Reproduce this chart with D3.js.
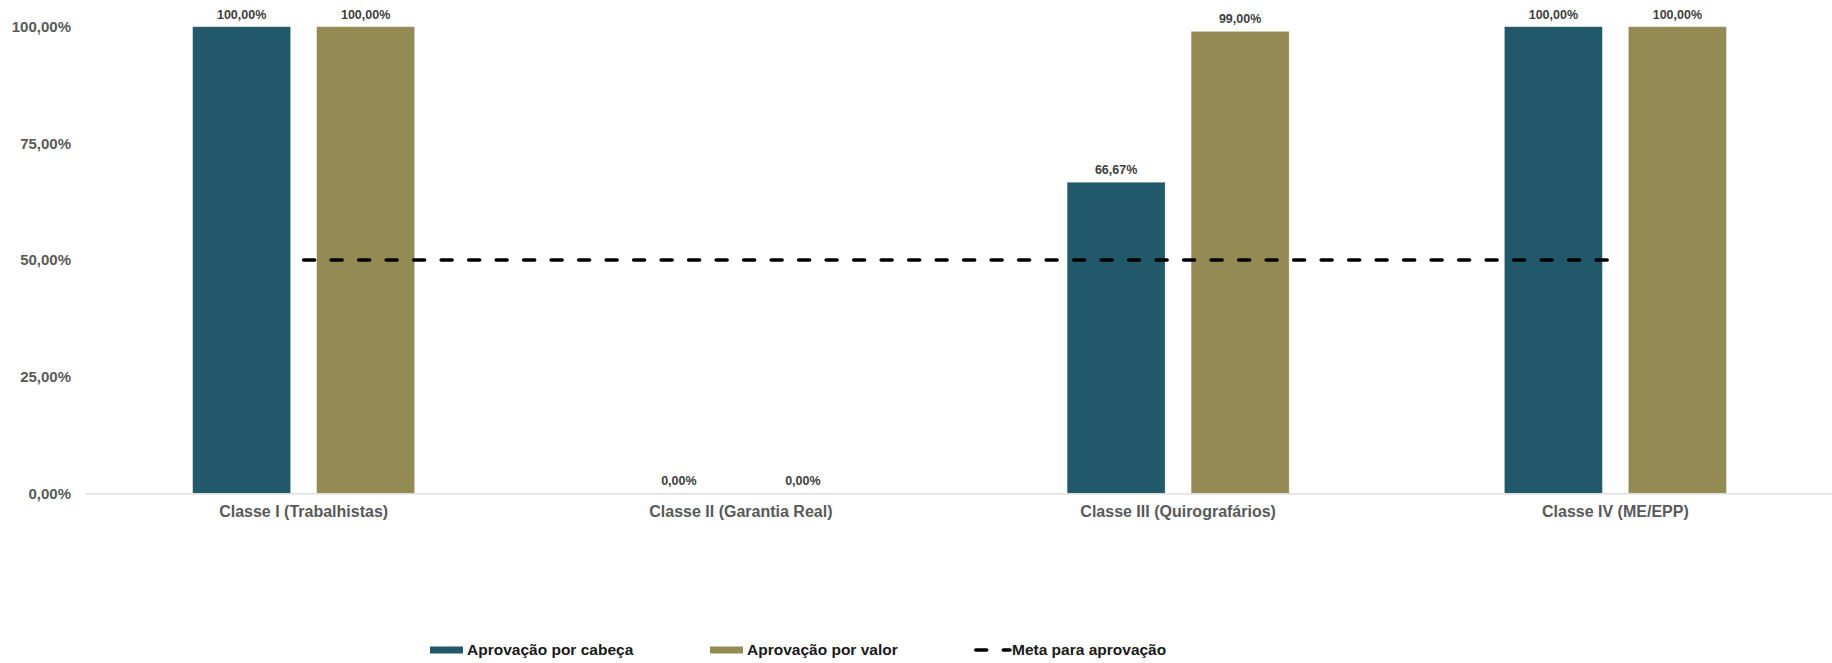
<!DOCTYPE html>
<html>
<head>
<meta charset="utf-8">
<script src="https://cdn.jsdelivr.net/npm/d3@7"></script>
<style>
  html, body { margin: 0; padding: 0; background: #fff; }
</style>
</head>
<body>
<div id="chart"></div>
<script>
const categories = ["Classe I (Trabalhistas)", "Classe II (Garantia Real)", "Classe III (Quirografários)", "Classe IV (ME/EPP)"];
const series = ["Aprovação por cabeça", "Aprovação por valor"];
const porCabeca = [1.0, 0.0, 0.6667, 1.0];
const porValor = [1.0, 0.0, 0.99, 1.0];
const meta = [0.5, 0.5, 0.5, 0.5];
const metaLabel = "Meta para aprovação";
const yTicks = [0, 0.25, 0.5, 0.75, 1.0];

const width = 1832;
const height = 663;
const margin = { top: 26.7, right: 0, bottom: 169.7, left: 85 };

const colors = { "Aprovação por cabeça": "#22596a", "Aprovação por valor": "#948a54" };

const fmt = v => d3.format(".2f")(v * 100).replace(".", ",") + "%";

const rows = categories.map((c, i) => ({
  category: c,
  values: [
    { key: series[0], value: porCabeca[i] },
    { key: series[1], value: porValor[i] }
  ],
  meta: meta[i]
}));

const svg = d3.select("#chart").append("svg")
  .attr("width", width)
  .attr("height", height)
  .style("font-family", "'Liberation Sans', Arial, sans-serif");

const x = d3.scaleBand()
  .domain(categories)
  .range([margin.left, 1834])
  .padding(0);

const xSub = d3.scaleBand()
  .domain(series)
  .range([0, x.bandwidth()])
  .paddingInner(0.2097)
  .paddingOuter(0.868);

const y = d3.scaleLinear()
  .domain([0, 1])
  .range([height - margin.bottom, margin.top]);

// Y axis labels (no axis line)
svg.append("g")
  .selectAll("text")
  .data(yTicks)
  .join("text")
  .attr("x", 71)
  .attr("y", d => y(d))
  .attr("dy", "0.35em")
  .attr("text-anchor", "end")
  .style("font-weight", "bold")
  .style("font-size", "15px")
  .style("fill", "#595959")
  .text(d => fmt(d));

// Bars
const groups = svg.append("g")
  .selectAll("g")
  .data(rows)
  .join("g")
  .attr("transform", d => `translate(${x(d.category)},0)`);

groups.selectAll("rect")
  .data(d => d.values)
  .join("rect")
  .attr("x", d => xSub(d.key))
  .attr("y", d => y(d.value))
  .attr("width", xSub.bandwidth())
  .attr("height", d => y(0) - y(d.value))
  .attr("fill", d => colors[d.key])
  .attr("stroke", "#ffffff")
  .attr("stroke-opacity", 0.4)
  .attr("stroke-width", 0.75);

// Data labels
groups.selectAll("text")
  .data(d => d.values)
  .join("text")
  .attr("x", d => xSub(d.key) + xSub.bandwidth() / 2)
  .attr("y", d => y(d.value) - 8)
  .attr("text-anchor", "middle")
  .style("font-weight", "bold")
  .style("font-size", "12.5px")
  .style("fill", "#404040")
  .text(d => fmt(d.value));

// X axis
const xAxis = svg.append("g")
  .attr("transform", `translate(0,${y(0)})`)
  .call(d3.axisBottom(x).tickSize(0).tickPadding(12));
xAxis.select(".domain")
  .attr("stroke", "#d9d9d9")
  .attr("stroke-width", 1.2);
xAxis.selectAll("text")
  .style("font-family", "'Liberation Sans', Arial, sans-serif")
  .style("font-weight", "bold")
  .style("font-size", "16px")
  .style("fill", "#595959");

// Meta line
const line = d3.line()
  .x((d, i) => x(categories[i]) + x.bandwidth() / 2)
  .y(d => y(d));

svg.append("path")
  .datum(meta)
  .attr("fill", "none")
  .attr("stroke", "#000")
  .attr("stroke-width", 3.5)
  .attr("stroke-linecap", "round")
  .attr("stroke-dasharray", "11 16.5")
  .attr("d", line);

// Legend
const legend = svg.append("g").attr("transform", "translate(0,650)");
const legendItems = [
  { key: series[0], x: 430, type: "rect" },
  { key: series[1], x: 710, type: "rect" },
  { key: metaLabel, x: 974, type: "line" }
];

legendItems.forEach(item => {
  if (item.type === "rect") {
    legend.append("rect")
      .attr("x", item.x)
      .attr("y", -3.5)
      .attr("width", 33)
      .attr("height", 7)
      .attr("fill", colors[item.key]);
    legend.append("text")
      .attr("x", item.x + 37)
      .attr("y", 5)
      .style("font-weight", "bold")
      .style("font-size", "15.5px")
      .style("fill", "#1a1a1a")
      .text(item.key);
  } else {
    legend.append("line")
      .attr("x1", item.x + 1.75)
      .attr("x2", item.x + 36)
      .attr("y1", 0)
      .attr("y2", 0)
      .attr("stroke", "#000")
      .attr("stroke-width", 3.5)
      .attr("stroke-linecap", "round")
      .attr("stroke-dasharray", "11 16.5");
    legend.append("text")
      .attr("x", item.x + 38)
      .attr("y", 5)
      .style("font-weight", "bold")
      .style("font-size", "15.5px")
      .style("fill", "#1a1a1a")
      .text(item.key);
  }
});
</script>
</body>
</html>
